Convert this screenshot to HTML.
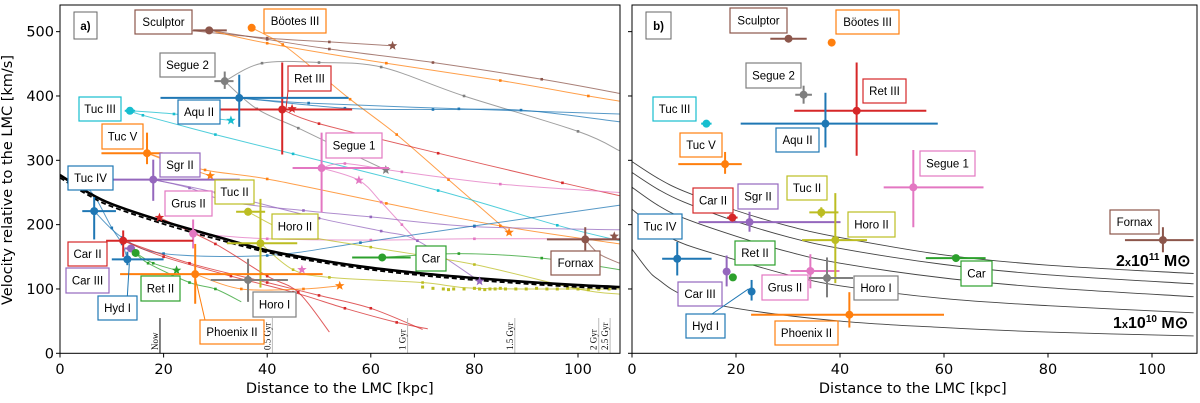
<!DOCTYPE html>
<html><head><meta charset="utf-8"><style>
html,body{margin:0;padding:0;background:#fff;}
svg{display:block;}
.tk{font-family:"DejaVu Sans","Liberation Sans",sans-serif;font-size:14.5px;fill:#000;}
.lb{font-family:"Liberation Sans",sans-serif;font-size:11.5px;fill:#000;}
.tm{font-family:"Liberation Serif",serif;font-size:9px;fill:#000;}
</style></head><body>
<svg id="c" width="1200" height="403" viewBox="0 0 1200 403" xmlns="http://www.w3.org/2000/svg">
<g id="pa"></g>
<g id="pb"></g>
</svg>
<script>
const COL={blue:'#1f77b4',orange:'#ff7f0e',green:'#2ca02c',red:'#d62728',purple:'#9467bd',brown:'#8c564b',pink:'#e377c2',gray:'#7f7f7f',olive:'#bcbd22',cyan:'#17becf'};
const xTicks=[0,20,40,60,80,100];
const yTicks=[0,100,200,300,400,500];
const satNames=['Sculptor','Bootes III','Segue 2','Ret III','Tuc III','Aqu II','Tuc V','Segue 1','Sgr II','Tuc IV','Tuc II','Grus II','Horo II','Car II','Car','Fornax','Car III','Ret II','Horo I','Hyd I','Phoenix II'];
const satLabels=['Sculptor','Böotes III','Segue 2','Ret III','Tuc III','Aqu II','Tuc V','Segue 1','Sgr II','Tuc IV','Tuc II','Grus II','Horo II','Car II','Car','Fornax','Car III','Ret II','Horo I','Hyd I','Phoenix II'];
const satColors=['brown','orange','gray','red','cyan','blue','orange','pink','purple','blue','olive','pink','olive','red','green','brown','purple','green','gray','blue','orange'];
const aPts=[[28.8,502,25.7,32.2,502,502],[37,506,37,37,506,506],[31.8,423,29.8,33.5,411,438],[42.9,379,31,56.4,309,452],[13.5,377,12.5,14.5,377,377],[34.6,397,19.4,55.7,352,433],[16.8,311,8,19.8,294,343],[50.5,288,44.9,63.5,219,343],[18,270,10,34.7,237,301],[6.6,221,4.3,10.8,177,243],[36.3,220,34,39.6,214,226],[25.7,186,25.7,25.7,163,208],[38.7,171,32.2,45.8,102,240],[12.2,175,8.9,25.7,150,191],[62.2,149,56.4,67.7,149,149],[101.4,177,94,108,160,196],[13.7,163,12.5,14.5,163,163],[14.6,156,14,15.2,156,156],[36.3,114,29.1,44,80,147],[13,146,10,20,137,158],[26.1,123,11.6,50.7,77,170]];
const bPts=[[30.1,489,26.6,33.6,489,489],[38.4,483,38.4,38.4,483,483],[33,402,31.4,34.6,388,416],[43.2,377,31.2,56.6,307,452],[14.3,357,13.3,15.3,357,357],[37.2,357,20.9,58.8,320,405],[17.9,294,8.9,21.1,279,313],[54.1,258,48.4,67.6,196,316],[22.6,204,12.8,40.1,189,220],[8.7,147,5.8,15.3,121,173],[36.4,219,34.1,39.7,211,227],[34.3,128,30.5,39.9,101,154],[39.1,176,32.7,45.2,109,249],[19.3,211,18.3,20.3,211,211],[62.3,148,56.5,68,148,148],[102.1,176,94.8,108,157,196],[18.2,127,18.2,18.2,104,152],[19.4,118,19,19.8,118,118],[37.5,117,34,42.5,87,149],[23,96,23,23,82,114],[41.8,60,22.9,60,40,95]];
const aBox=[[135,10,192,34],[264,9,326,33],[160,53,215,77],[288,66,331,91],[79,97,121,121],[178,100,220,124],[102,124,143,149],[326,133,382,158],[160,153,200,177],[68,166,113,190],[215,180,254,204],[165,191,212,216],[272,214,318,239],[68,242,107,266],[416,246,446,271],[551,251,600,275],[66,268,109,293],[141,276,180,301],[253,292,296,317],[98,296,137,320],[200,320,264,344]];
const bBox=[[730,8,787,33],[836,10,899,34],[746,63,801,88],[863,79,906,103],[653,97,696,121],[776,128,819,152],[680,133,722,157],[920,151,975,176],[738,184,778,209],[638,214,682,239],[787,176,827,200],[762,275,808,300],[848,212,895,237],[693,188,733,213],[961,261,992,286],[1110,210,1159,234],[678,282,722,306],[735,241,775,265],[854,276,898,300],[686,314,725,338],[775,321,838,345]];
const orbitColors=['brown','brown','orange','orange','gray','gray','blue','blue','red','cyan','cyan','orange','orange','pink','pink','pink','purple','purple','blue','olive','olive','green','red','red','red','green','green','orange','blue','brown'];
const orbits=[
[[25,502],[40,490],[52,484],[64.2,478]],
[[28.8,502],[40,488],[52,473],[72,452],[93,426],[108,404]],
[[37,506],[43,480],[50,435],[56,395],[65,340],[75,270],[86.7,188]],
[[30,500],[40,482],[63,451],[85,424],[102,400],[108,392]],
[[31.8,423],[39,451],[50,452],[62,445],[78,400],[100,345],[108,315]],
[[31.8,423],[38,380],[46,350],[55,315],[62.9,285]],
[[34.6,397],[48,389],[77,380],[108,372]],
[[34.6,397],[55,381],[72,379],[89,378],[108,360]],
[[42.9,379],[50,357],[73,311],[97,265],[108,245]],
[[13.5,377],[22,372],[33,362]],
[[13.5,377],[16,370],[30,340],[45,310],[73,253],[96,199],[108,175]],
[[16.8,311],[22,295],[29,276]],
[[16.8,311],[28,285],[40,271],[63,233],[85,198],[108,170]],
[[50.5,288],[55,295],[66,282],[85,263],[108,250]],
[[50.5,288],[57.7,269],[62,235],[66,200],[69,174]],
[[25.7,186],[40,178],[60,176],[80,178],[108,178]],
[[18,270],[25,257],[33,235],[47,222],[60,212],[80,197],[108,192]],
[[18,270],[30,250],[50,210],[62,190],[69,175],[81,112]],
[[6.6,221],[12,180],[20,155],[40,152],[58,172],[80,198],[108,230]],
[[36.3,220],[45,187],[60,165],[80,138],[100,100],[108,92]],
[[38.7,171],[45,130],[52,118],[70,110],[80,101],[100,100],[108,100]],
[[62.2,149],[77,155],[93,148],[108,130]],
[[12.2,175],[25,140],[40,110],[50,90],[60,70],[70,37]],
[[19.2,211],[30,170],[40,120],[46,95],[52,33]],
[[12.2,175],[20,150],[33,120],[45,95],[55,70],[65,48],[71,38]],
[[14.6,156],[18,140],[22.5,129]],
[[14.6,156],[17,140],[25,110],[30,100],[35,80]],
[[26.1,123],[35,100],[47,100],[54,105]],
[[13,146],[12,170],[10,195],[7,240],[5,260]],
[[101.4,177],[104,155],[108,140]]
];
const horoDotsX=[70,72,74,75,76,78,80,81,82,83,84,85,86,88,90,92,94,96,98,100,102,104,106];
const horoDotsY=[103,101,100,99,100,100,101,100,99,100,100,101,100,100,100,101,100,100,101,100,99,100,100];
const starPts=[[64.2,478,'brown'],[86.7,188,'orange'],[33,362,'cyan'],[44.8,380,'red'],[29,276,'orange'],[57.7,269,'pink'],[81,112,'purple'],[19.2,211,'red'],[22.5,129,'green'],[54,105,'orange'],[46.7,130,'pink'],[62.9,285,'gray'],[107,182,'brown']];
const escSolid=[[0,277],[5,252],[10,232],[20,205],[30,182],[40,160],[50,145],[60,133],[70,124],[80,117],[90,111],[100,106],[108,103]];
const escDashed=[[0,273],[5,248],[10,228],[20,201],[30,178],[40,157],[50,142],[60,130],[70,121],[80,114],[90,108],[100,103],[108,100]];
const massCurves=[
[[0,298],[5,272],[10,252],[20,222],[30,198],[40,180],[60,153],[80,137],[108,124]],
[[0,281],[5,255],[10,235],[20,205],[30,181],[40,163],[60,138],[80,122],[108,108]],
[[0,258],[5,230],[10,210],[20,182],[30,158],[40,140],[60,117],[80,102],[108,88]],
[[0,224],[5,192],[10,170],[20,145],[30,122],[40,105],[60,85],[80,74],[108,63]],
[[0,162],[3,130],[5,115],[10,90],[20,70],[40,50],[60,40],[80,33],[108,27]]
];
const timeX=[19.3,41,67.1,87.8,104,106.2];
const timeLabels=['Now','0.5 Gyr','1 Gyr','1.5 Gyr','2 Gyr','2.5 Gyr'];

const NS='http://www.w3.org/2000/svg';
function mk(p,t,a){const e=document.createElementNS(NS,t);for(const k in a)e.setAttribute(k,a[k]);p.appendChild(e);return e;}
const Y=v=>353.3-v*0.6433;
const XA=v=>60+v*5.18, XB=v=>632+v*5.2;
const pa=document.getElementById('pa'), pb=document.getElementById('pb');
const defs=mk(document.getElementById('c'),'defs',{});
const cpA=mk(defs,'clipPath',{id:'ca'});mk(cpA,'rect',{x:60,y:5,width:560,height:348.3});
const cpB=mk(defs,'clipPath',{id:'cb'});mk(cpB,'rect',{x:632,y:5,width:565,height:348.3});
function pathD(pts,X){
  const P=pts.map(p=>[X(p[0]),Y(p[1])]);
  let d='M'+P[0][0].toFixed(1)+','+P[0][1].toFixed(1);
  for(let i=0;i<P.length-1;i++){
    const p0=P[i-1]||P[i],p1=P[i],p2=P[i+1],p3=P[i+2]||p2;
    const c1=[p1[0]+(p2[0]-p0[0])/6,p1[1]+(p2[1]-p0[1])/6];
    const c2=[p2[0]-(p3[0]-p1[0])/6,p2[1]-(p3[1]-p1[1])/6];
    d+='C'+c1.map(v=>v.toFixed(1)).join(',')+' '+c2.map(v=>v.toFixed(1)).join(',')+' '+p2[0].toFixed(1)+','+p2[1].toFixed(1);
  }
  return d;
}
function star(p,cx,cy,r,c){let d='';for(let i=0;i<10;i++){const a=-Math.PI/2+i*Math.PI/5,rr=i%2?r*0.42:r;d+=(i?'L':'M')+(cx+rr*Math.cos(a)).toFixed(1)+','+(cy+rr*Math.sin(a)).toFixed(1);}return mk(p,'path',{d:d+'Z',fill:c});}

function axes(g,X,side,labels){
  const ag=mk(g,'g',{});
  
  
  xTicks.forEach(t=>{mk(ag,'line',{x1:X(t),x2:X(t),y1:353.3,y2:357.5,stroke:'#000','stroke-width':1});
    const tx=mk(ag,'text',{x:X(t),y:374,'text-anchor':'middle',class:'tk'});tx.textContent=t;
    
    });
  yTicks.forEach(t=>{mk(ag,'line',{x1:X(0)-4,x2:X(0),y1:Y(t),y2:Y(t),stroke:'#000','stroke-width':1});
    if(labels){const tx=mk(ag,'text',{x:X(0)-6,y:Y(t)+5,'text-anchor':'end',class:'tk'});tx.textContent=t;
    
    }});
  const xt=mk(ag,'text',{x:(X(0)+X(108))/2,y:393,'text-anchor':'middle',class:'tk'});xt.textContent='Distance to the LMC [kpc]';
  
  
}
function points(g,P,X){
  P.forEach((p,i)=>{const c=COL[satColors[i]];
    const e=mk(g,'g',{});
    
    
    if(p[3]>p[2])mk(e,'line',{x1:X(p[2]),x2:X(p[3]),y1:Y(p[1]),y2:Y(p[1]),stroke:c,'stroke-width':2});
    if(p[5]>p[4])mk(e,'line',{x1:X(p[0]),x2:X(p[0]),y1:Y(p[4]),y2:Y(p[5]),stroke:c,'stroke-width':2});
    mk(e,'circle',{cx:X(p[0]),cy:Y(p[1]),r:4,fill:c});});
}
function boxes(g,B){
  B.forEach((b,i)=>{const e=mk(g,'g',{});
    
    
    mk(e,'rect',{x:b[0],y:b[1],width:b[2]-b[0],height:b[3]-b[1],fill:'#fff',stroke:COL[satColors[i]],'stroke-width':1.2});
    const t=mk(e,'text',{x:(b[0]+b[2])/2,y:(b[1]+b[3])/2+4,'text-anchor':'middle',class:'lb'});t.textContent=satLabels[i];});
}
const oa=mk(pa,'g',{'clip-path':'url(#ca)'});


orbits.forEach((o,i)=>{const c=COL[orbitColors[i]];
  const l=mk(oa,'path',{d:pathD(o,XA),fill:'none',stroke:c,'stroke-width':1,opacity:0.75});
  
  
  o.slice(1,-1).forEach(p=>mk(oa,'rect',{x:XA(p[0])-1.3,y:Y(p[1])-1.3,width:2.6,height:2.6,fill:c}));});
horoDotsX.forEach((x,i)=>mk(oa,'rect',{x:XA(x)-1.5,y:Y(horoDotsY[i])-1.5,width:3,height:3,fill:COL.olive}));
timeX.forEach((t,i)=>{const l=mk(pa,'line',{x1:XA(t),x2:XA(t),y1:318,y2:353.3,stroke:i?'#bbb':'#000','stroke-width':1});
  
  
  const tx=mk(pa,'text',{x:0,y:0,class:'tm','text-anchor':'start',transform:`translate(${XA(t)-2},350) rotate(-90)`});tx.textContent=timeLabels[i];
  
  });
const es=mk(pa,'path',{d:pathD(escSolid,XA),fill:'none',stroke:'#000','stroke-width':2.6,'clip-path':'url(#ca)'});


const ed=mk(pa,'path',{d:pathD(escDashed,XA),fill:'none',stroke:'#000','stroke-width':1.8,'stroke-dasharray':'5,3','clip-path':'url(#ca)'});


starPts.forEach(s=>{const e=star(pa,XA(s[0]),Y(s[1]),5,COL[s[2]]);
  
  });
points(pa,aPts,XA);
mk(pa,'line',{x1:XA(13),y1:296,x2:XA(13)+2,y2:Y(140),stroke:COL.blue,'stroke-width':1});
mk(pa,'line',{x1:205,y1:320,x2:XA(26.1),y2:Y(118),stroke:COL.orange,'stroke-width':1});
mk(pa,'line',{x1:288,y1:91,x2:286,y2:Y(380),stroke:COL.red,'stroke-width':1});
boxes(pa,aBox);
mk(pa,'rect',{x:60,y:5,width:560,height:348.3,fill:'none',stroke:'#000','stroke-width':1});
axes(pa,XA,'panel-a',true);
const pal=mk(pa,'g',{});
mk(pal,'rect',{x:74,y:12,width:23,height:27,fill:'#fff',stroke:'#666'});
const ta=mk(pal,'text',{x:85.5,y:30,'text-anchor':'middle',class:'lb','font-weight':'bold'});ta.textContent='a)';
const yl=mk(pa,'text',{x:0,y:0,class:'tk','text-anchor':'middle',transform:'translate(12,180) rotate(-90)'});yl.textContent='Velocity relative to the LMC [km/s]';


const mc=mk(pb,'g',{'clip-path':'url(#cb)'});


massCurves.forEach(m=>{const l=mk(mc,'path',{d:pathD(m,XB),fill:'none',stroke:'#444','stroke-width':0.9});
  
  });
points(pb,bPts,XB);
mk(pb,'line',{x1:712,y1:314,x2:XB(22.4),y2:Y(100),stroke:COL.blue,'stroke-width':1});
boxes(pb,bBox);
const m1=mk(pb,'text',{x:1116,y:266,class:'lb',style:'font-size:16px','font-weight':'bold'});
m1.innerHTML='2<tspan style="font-size:11px">x</tspan>10<tspan dy="-6" style="font-size:10px">11</tspan><tspan dy="6"> M⊙</tspan>';


const m2=mk(pb,'text',{x:1113,y:328,class:'lb',style:'font-size:16px','font-weight':'bold'});
m2.innerHTML='1<tspan style="font-size:11px">x</tspan>10<tspan dy="-6" style="font-size:10px">10</tspan><tspan dy="6"> M⊙</tspan>';


mk(pb,'rect',{x:632,y:5,width:565,height:348.3,fill:'none',stroke:'#000','stroke-width':1});
axes(pb,XB,'panel-b',false);
const pbl=mk(pb,'g',{});
mk(pbl,'rect',{x:646,y:12,width:25,height:27,fill:'#fff',stroke:'#666'});
const tb=mk(pbl,'text',{x:658.5,y:30,'text-anchor':'middle',class:'lb','font-weight':'bold'});tb.textContent='b)';
</script>
</body></html>
